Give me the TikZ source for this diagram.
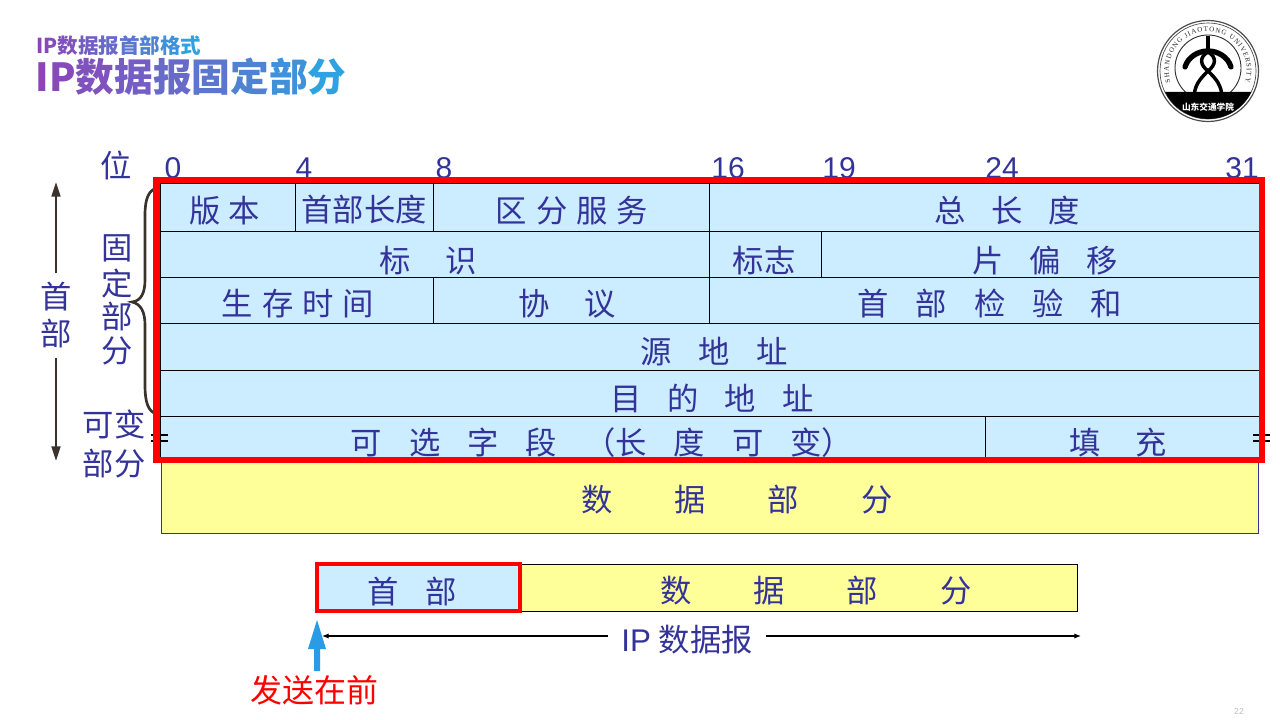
\documentclass[tikz,border=0pt]{standalone}
\usepackage{fontspec}
\setmainfont{Noto Sans CJK SC}
\newfontfamily\latinf{Liberation Sans}
\newfontfamily\logof{Liberation Serif}
\usetikzlibrary{arrows.meta,decorations.text}
\definecolor{navy}{HTML}{333399}
\definecolor{cellblue}{HTML}{CCECFF}
\definecolor{cellyellow}{HTML}{FFFF99}
\definecolor{darkbrown}{HTML}{3A322C}
\definecolor{sendblue}{HTML}{2A9BE5}
\definecolor{tA}{HTML}{8E43B7}
\definecolor{tB}{HTML}{2CA5E2}
\newdimen\gu \gu=.75pt
\newcommand{\gp}[1]{\kern#1\gu}
\newcommand{\tc}[2]{\textcolor{tB!#1!tA}{#2}}
\newcommand{\fs}[1]{\fontsize{#1}{#1}\selectfont}
\tikzset{
  cellbox/.style={draw=black,line width=.65pt,fill=cellblue,inner sep=0pt,outer sep=0pt},
  databox/.style={draw=navy,line width=.65pt,fill=cellyellow,inner sep=0pt,outer sep=0pt},
  lowdata/.style={draw=black,line width=.65pt,fill=cellyellow,inner sep=0pt,outer sep=0pt},
  celltext/.style={text=navy,inner sep=0pt,font=\fs{23.5},text height=20pt,text depth=3pt},
  numlabel/.style={text=navy,inner sep=0pt,font=\latinf\fs{22.5},text height=16pt,text depth=0pt},
  redframe/.style={draw=red,line width=4.9pt},
  redsmall/.style={draw=red,line width=3pt},
  dimarrow/.style={draw=darkbrown,line width=1.9pt,shorten <=6pt,-{Triangle[length=11pt,width=6.5pt]}},
  ipline/.style={draw=black,line width=.9pt,-{Latex[length=5pt,width=4pt]}},
  breakbar/.style={draw=black,line width=2.1pt},
}
% x1 y1 x2 y2 tx ty text, optional style
\newcommand{\cell}[8][cellbox]{%
  \node[#1,anchor=north west,minimum width={(#4-#2)*.75pt},minimum height={(#5-#3)*.75pt}] (c#2x#3) at (#2,#3) {};
  \node[celltext] (t#2x#3) at (#6,#7) {#8};
}
\begin{document}
\begin{tikzpicture}[x=.75pt,y=-.75pt]
\useasboundingbox (0,0) rectangle (1280,720);
\fill[white] (0,0) rectangle (1280,720);
% titles
\node[anchor=west,inner sep=0pt,font=\bfseries\fs{15.4}] (sub) at (36,45.5)
 {\tc{0}{I}\tc{6}{P}\tc{15}{数}\tc{28}{据}\tc{40}{报}\tc{52}{首}\tc{65}{部}\tc{80}{格}\tc{95}{式}};
\node[anchor=west,inner sep=0pt,font=\bfseries\fs{29}] (main) at (35.5,77)
 {\tc{0}{I}\tc{6}{P}\tc{15}{数}\tc{27}{据}\tc{40}{报}\tc{52}{固}\tc{65}{定}\tc{80}{部}\tc{97}{分}};
% bit labels
\node[celltext] (wei) at (116,166) {位};
\node[numlabel] (n0) at (173,168) {0};
\node[numlabel] (n4) at (304,168) {4};
\node[numlabel] (n8) at (444,168) {8};
\node[numlabel] (n16) at (728,168) {16};
\node[numlabel] (n19) at (839,168) {19};
\node[numlabel] (n24) at (1002,168) {24};
\node[numlabel] (n31) at (1242,168) {31};
% left labels
\node[celltext] (shou) at (56,297) {首};
\node[celltext] (bu) at (56,334) {部};
\coordinate (dimtop) at (56,182);
\coordinate (dimbot) at (56,461);
\draw[dimarrow] (shou.north) -- (dimtop);
\draw[dimarrow] (bu.south) -- (dimbot);
\node[celltext] (g1) at (117,248) {固};
\node[celltext] (g2) at (117,284) {定};
\node[celltext] (g3) at (117,317) {部};
\node[celltext] (g4) at (117,351) {分};
\node[celltext] (kb) at (114,425) {可变};
\node[celltext] (bf) at (114,464) {部分};
% brace
\draw[darkbrown,line width=2pt] (157,188) .. controls (149,190) and (145,198) .. (145,215)
  -- (145,280) .. controls (145,293) and (141,301) .. (132,302)
  .. controls (141,304) and (145,312) .. (145,325)
  -- (145,385) .. controls (145,402) and (148,412) .. (157,414);
% data part
\node[databox,anchor=north west,minimum width={1097*.75pt},minimum height={75*.75pt}] (data) at (161,458) {};
\node[celltext] (datat) at (737,500) {数\gp{62}据\gp{62}部\gp{62}分};
% cells
\cell{160}{183}{295}{231}{225}{211}{版\gp{8}本}
\cell{295}{183}{433}{231}{364}{210}{首部长度}
\cell{433}{183}{709}{231}{572}{211}{区\gp{9}分\gp{9}服\gp{9}务}
\cell{709}{183}{1260}{231}{1007}{211}{总\gp{26}长\gp{26}度}
\cell{160}{231}{709}{277}{428}{261}{标\gp{34}识}
\cell{709}{231}{821}{277}{764}{261}{标志}
\cell{821}{231}{1260}{277}{1045}{261}{片\gp{26}偏\gp{26}移}
\cell{160}{277}{433}{323}{298}{304}{生\gp{9}存\gp{9}时\gp{9}间}
\cell{433}{277}{709}{323}{567}{304}{协\gp{34}议}
\cell{709}{277}{1260}{323}{990}{304}{首\gp{27}部\gp{27}检\gp{27}验\gp{27}和}
\cell{160}{323}{1260}{370}{714}{352}{源\gp{27}地\gp{27}址}
\cell{160}{370}{1260}{416}{712}{399}{目\gp{26}的\gp{26}地\gp{26}址}
\cell{160}{416}{985}{458}{602}{443}{可\gp{27}选\gp{27}字\gp{27}段\gp{27}（长\gp{27}度\gp{27}可\gp{27}变）}
\cell{985}{416}{1260}{458}{1118}{443}{填\gp{34}充}
% break marks
\draw[breakbar] (151,435) -- (168,435) (151,441) -- (168,441);
\draw[breakbar] (1253,435) -- (1270,435) (1253,441) -- (1270,441);
% red frame
\draw[redframe] (156.5,180) rectangle (1262,460);
% lower packet
\node[lowdata,anchor=north west,minimum width={557*.75pt},minimum height={47*.75pt}] (lowd) at (520,564) {};
\node[celltext] (lowdt) at (816,591) {数\gp{62}据\gp{62}部\gp{62}分};
\node[cellbox,draw=none,anchor=north west,minimum width={203.5*.75pt},minimum height={47*.75pt}] (lowh) at (316.5,564) {};
\node[celltext] (lowht) at (412,592) {首\gp{27}部};
\draw[redsmall] (lowh.north west) rectangle (lowh.south east);
% IP datagram
\node[inner sep=0pt,text=navy,font=\fs{23.5},minimum width={158*.75pt},text height=20pt,text depth=3pt] (ip) at (687,640) {{\latinf IP}\kern.25em数据报};
\coordinate (ipl) at (322,636);
\coordinate (ipr) at (1081,636);
\draw[ipline] (ip.west |- ipl) -- (ipl);
\draw[ipline] (ip.east |- ipr) -- (ipr);
% send arrow
\fill[sendblue] (317,620) -- (326,649) -- (320,649) -- (320,671) -- (314,671) -- (314,649) -- (308,649) -- cycle;
\node[inner sep=0pt,text=red,font=\fs{24},text height=20pt,text depth=3pt] (send) at (314,691) {发送在前};
% page number
\node[inner sep=0pt,text=black!25,font=\latinf\fs{6.5}] (page) at (1239,711) {22};
% logo
\begin{scope}[shift={(1208,71)}]
\begin{scope}[y=.75pt]
\draw[black!70,line width=.9pt] (0,0) circle (50.5);
\draw[black!70,line width=.5pt] (0,0) circle (48);
\draw[black!80,line width=.7pt] (0,3) circle (33);
\fill[black] (-43,-21) arc (206:334:48) -- cycle;
\path[decorate,decoration={text along path,text align={fit to path},
  text={|\logof\fs{5.2}\color{black!85}|SHANDONG JIAOTONG UNIVERSITY}}]
  (-37.5,-11) arc (197:-17:39);
\node[inner sep=0pt,text=white,font=\bfseries\fs{6.5}] (xh) at (0,-36) {山东交通学院};
\draw[black,line width=3.2pt] (0,35) -- (0,18);
\draw[black,line width=4pt,line cap=round] (-23,4) .. controls (-20,14) and (-10,20) .. (0,20) .. controls (10,20) and (20,14) .. (23,4);
\draw[black,line width=2.6pt] (0,19) .. controls (-9,14) and (-8,6) .. (0,0) .. controls (8,-8) and (14,-14) .. (14,-28);
\draw[black,line width=2.6pt] (0,19) .. controls (9,14) and (8,6) .. (0,0) .. controls (-8,-8) and (-14,-14) .. (-14,-28);
\end{scope}
\end{scope}
\end{tikzpicture}
\end{document}
